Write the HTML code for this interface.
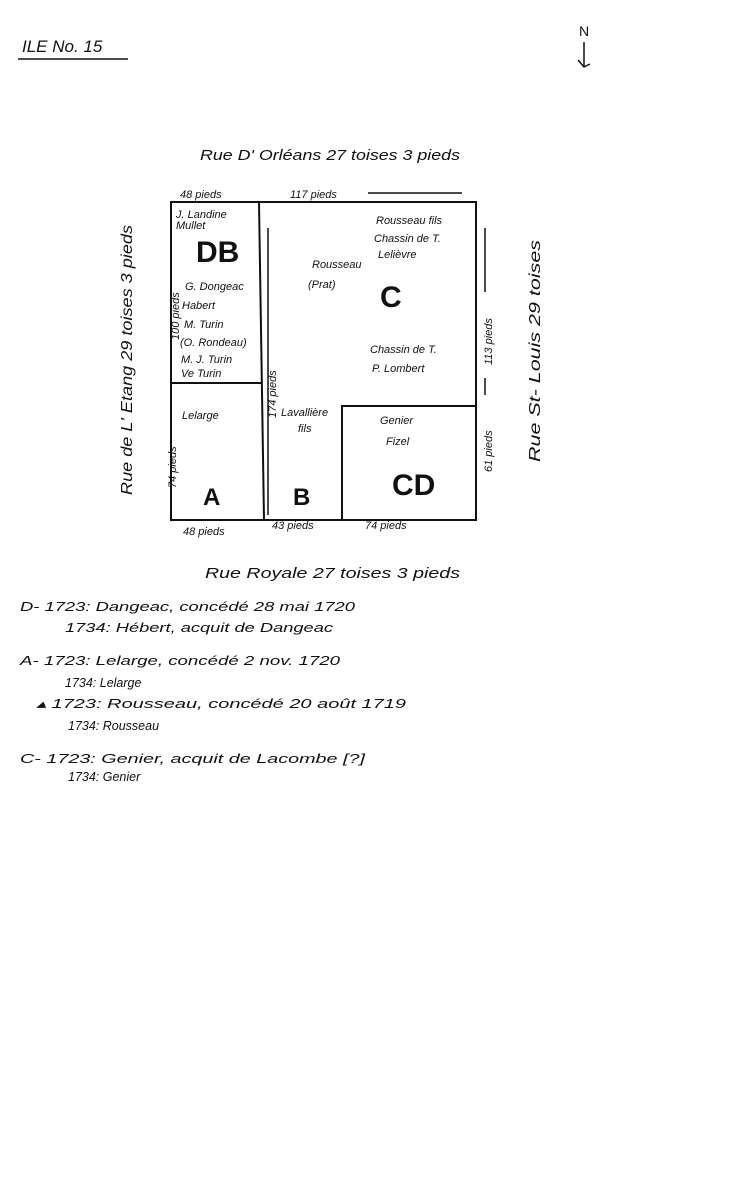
<!DOCTYPE html>
<html><head><meta charset="utf-8"><style>
body{margin:0;background:#fff;}
svg{display:block}
text{font-family:"Liberation Sans",sans-serif;fill:#111;}
</style></head><body>
<svg width="745" height="1200" viewBox="0 0 745 1200">
<text x="22" y="52" font-size="17" font-style="italic">ILE No. 15</text>
<line x1="18" y1="59" x2="128" y2="59" stroke="#111" stroke-width="1.5"/>
<text x="579" y="36" font-size="14">N</text>
<line x1="584" y1="42" x2="584" y2="66" stroke="#111" stroke-width="1.5"/>
<path d="M578 60 L584 67 L590 64" fill="none" stroke="#111" stroke-width="1.5"/>
<text x="200" y="160" font-size="15" font-style="italic" textLength="260" lengthAdjust="spacingAndGlyphs">Rue D' Orléans 27 toises 3 pieds</text>
<g fill="none" stroke="#111" stroke-width="2">
<rect x="171" y="202" width="305" height="318"/>
<line x1="259" y1="202" x2="264" y2="520"/>
<line x1="171" y1="383" x2="261" y2="383"/>
<polyline points="342,520 342,406 476,406"/>
</g>
<g stroke="#111" stroke-width="1.5">
<line x1="268" y1="228" x2="268" y2="515"/>
<line x1="368" y1="193" x2="462" y2="193"/>
<line x1="485" y1="228" x2="485" y2="292"/>
<line x1="485" y1="378" x2="485" y2="395"/>
</g>
<g font-size="11" font-style="italic">
<text x="180" y="198">48 pieds</text>
<text x="290" y="198">117 pieds</text>
<text x="183" y="535">48 pieds</text>
<text x="272" y="529">43 pieds</text>
<text x="365" y="529">74 pieds</text>
<text x="176" y="218">J. Landine</text>
<text x="176" y="229">Mullet</text>
<text x="185" y="290">G. Dongeac</text>
<text x="182" y="309">Habert</text>
<text x="184" y="328">M. Turin</text>
<text x="180" y="346">(O. Rondeau)</text>
<text x="181" y="363">M. J. Turin</text>
<text x="181" y="377">Ve Turin</text>
<text x="312" y="268">Rousseau</text>
<text x="308" y="288">(Prat)</text>
<text x="376" y="224">Rousseau fils</text>
<text x="374" y="242">Chassin de T.</text>
<text x="378" y="258">Lelièvre</text>
<text x="370" y="353">Chassin de T.</text>
<text x="372" y="372">P. Lombert</text>
<text x="182" y="419">Lelarge</text>
<text x="281" y="416">Lavallière</text>
<text x="298" y="432">fils</text>
<text x="380" y="424">Genier</text>
<text x="386" y="445">Fizel</text>
</g>
<g font-size="30" font-weight="bold">
<text x="196" y="262">DB</text>
<text x="380" y="307">C</text>
<text x="203" y="505" font-size="24">A</text>
<text x="293" y="505" font-size="24">B</text>
<text x="392" y="495">CD</text>
</g>
<g font-size="11" font-style="italic">
<text transform="translate(179,340) rotate(-90)">100 pieds</text>
<text transform="translate(176,488) rotate(-90)">74 pieds</text>
<text transform="translate(276,418) rotate(-90)">174 pieds</text>
<text transform="translate(492,365) rotate(-90)">113 pieds</text>
<text transform="translate(492,472) rotate(-90)">61 pieds</text>
</g>
<text transform="translate(132,495) rotate(-90)" font-size="16" font-style="italic" textLength="270" lengthAdjust="spacingAndGlyphs">Rue de L' Etang 29 toises 3 pieds</text>
<text transform="translate(540,462) rotate(-90)" font-size="16" font-style="italic" textLength="222" lengthAdjust="spacingAndGlyphs">Rue St- Louis 29 toises</text>
<text x="205" y="578" font-size="15" font-style="italic" textLength="255" lengthAdjust="spacingAndGlyphs">Rue Royale 27 toises 3 pieds</text>
<g font-size="12.5" font-style="italic">
<text x="20" y="611" textLength="335" lengthAdjust="spacingAndGlyphs">D- 1723: Dangeac, concédé 28 mai 1720</text>
<text x="65" y="632" textLength="268" lengthAdjust="spacingAndGlyphs">1734: Hébert, acquit de Dangeac</text>
<text x="20" y="665" textLength="320" lengthAdjust="spacingAndGlyphs">A- 1723: Lelarge, concédé 2 nov. 1720</text>
<text x="65" y="687">1734: Lelarge</text>
<text x="36" y="708" textLength="370" lengthAdjust="spacingAndGlyphs">▴   1723: Rousseau, concédé 20 août 1719</text>
<text x="68" y="730">1734: Rousseau</text>
<text x="20" y="763" textLength="345" lengthAdjust="spacingAndGlyphs">C- 1723: Genier, acquit de Lacombe [?]</text>
<text x="68" y="781">1734: Genier</text>
</g>
</svg>
</body></html>
